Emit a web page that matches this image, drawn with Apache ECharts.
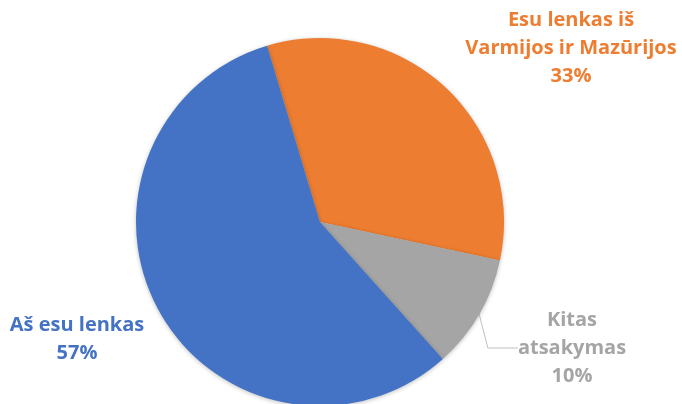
<!DOCTYPE html>
<html>
<head>
<meta charset="utf-8">
<script src="https://cdn.jsdelivr.net/npm/echarts@6/dist/echarts.min.js"></script>
<style>
  html, body { margin: 0; padding: 0; background: #fff; }
  #chart { width: 682px; height: 404px; }
</style>
</head>
<body>
<div id="chart"></div>
<script>
const names = ['Esu lenkas iš\nVarmijos ir Mazūrijos', 'Kitas\natsakymas', 'Aš esu lenkas']
const values = [33, 10, 57]
const colors = ['#ED7D31', '#A5A5A5', '#4472C4']

// label anchor points (px)
const labelPos = [
  { x: 571, y: 48 },
  { x: 572, y: 348 },
  { x: 77, y: 339 }
]

const chart = echarts.init(document.getElementById('chart'))

const option = {
  animation: false,
  series: [
    {
      type: 'pie',
      center: [320, 222],
      radius: 184,
      startAngle: 106.7,
      clockwise: true,
      silent: true,
      data: names.map((n, i) => ({
        name: n,
        value: values[i],
        itemStyle: { color: colors[i] },
        label: { color: colors[i] },
        labelLine: { show: i === 1 }
      })),
      itemStyle: {
        shadowBlur: 4,
        shadowColor: 'rgba(0,0,0,0.25)',
        shadowOffsetY: 1
      },
      label: {
        show: true,
        position: 'outside',
        formatter: '{b}\n{d}%',
        fontFamily: 'Open Sans',
        fontWeight: 'bold',
        fontSize: 20,
        lineHeight: 28,
        align: 'center',
        overflow: 'none'
      },
      labelLine: {
        lineStyle: { color: '#bfbfbf', width: 1 }
      },
      labelLayout: function (params) {
        const p = labelPos[params.dataIndex]
        return { x: p.x, y: p.y, align: 'center', verticalAlign: 'middle' }
      }
    }
  ]
}

chart.setOption(option)
</script>
</body>
</html>
